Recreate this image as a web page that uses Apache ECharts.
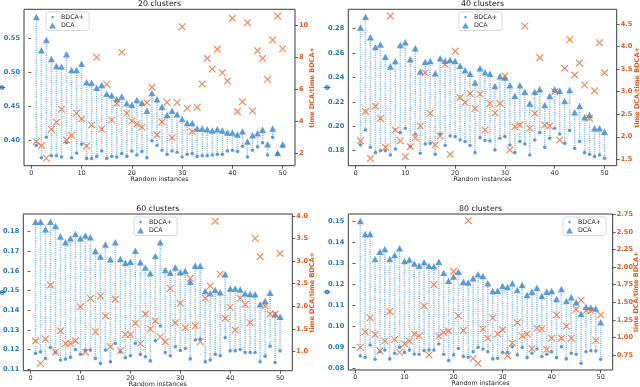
<!DOCTYPE html>
<html><head><meta charset="utf-8">
<script src="https://cdn.jsdelivr.net/npm/echarts@6/dist/echarts.min.js"></script>
<style>html,body{margin:0;padding:0;background:#fff}#c{width:640px;height:387px}</style>
</head><body><div id="c"></div>
<script>
const instances = [1,2,3,4,5,6,7,8,9,10,11,12,13,14,15,16,17,18,19,20,21,22,23,24,25,26,27,28,29,30,31,32,33,34,35,36,37,38,39,40,41,42,43,44,45,46,47,48,49,50];

const dca20 = [0.582,0.533,0.548,0.520,0.510,0.509,0.527,0.504,0.504,0.513,0.486,0.485,0.478,0.482,0.469,0.467,0.461,0.465,0.455,0.453,0.460,0.456,0.444,0.470,0.461,0.450,0.438,0.444,0.439,0.432,0.426,0.426,0.418,0.418,0.417,0.415,0.417,0.415,0.412,0.412,0.409,0.414,0.399,0.408,0.411,0.416,0.395,0.418,0.382,0.395];
const bdca20 = [0.393,0.375,0.405,0.378,0.378,0.376,0.397,0.375,0.382,0.395,0.374,0.374,0.377,0.385,0.374,0.377,0.376,0.381,0.377,0.385,0.379,0.384,0.375,0.400,0.393,0.386,0.380,0.385,0.383,0.376,0.380,0.381,0.377,0.378,0.378,0.379,0.380,0.380,0.385,0.386,0.384,0.392,0.376,0.386,0.391,0.397,0.379,0.405,0.381,0.392];
const ratio20 = [2.75,2.50,1.71,3.52,3.95,4.76,2.85,3.14,4.51,4.16,2.48,3.78,7.99,3.53,6.31,4.09,5.13,8.30,4.51,4.03,3.84,3.64,5.17,6.12,3.18,3.97,5.19,2.99,5.18,9.89,4.82,3.37,4.88,6.33,7.92,7.26,8.48,7.03,6.52,10.41,4.61,5.23,10.14,4.65,8.40,7.92,6.62,9.06,10.55,8.52];

const dca40 = [0.281,0.2898,0.273,0.265,0.267,0.257,0.249,0.2535,0.2666,0.2688,0.255,0.264,0.245,0.253,0.2535,0.2434,0.2557,0.2538,0.2543,0.2535,0.2497,0.246,0.243,0.2358,0.2475,0.2442,0.243,0.233,0.241,0.240,0.2336,0.225,0.2336,0.2284,0.2186,0.2284,0.2303,0.2175,0.2249,0.2303,0.2292,0.2208,0.2298,0.2115,0.2167,0.2074,0.2093,0.1984,0.1984,0.1956];
const bdca40 = [0.1847,0.197,0.1828,0.1784,0.180,0.180,0.1765,0.1814,0.1948,0.1984,0.1834,0.1937,0.1779,0.1855,0.186,0.177,0.1937,0.1842,0.1921,0.1915,0.1888,0.1875,0.1842,0.1784,0.1907,0.1883,0.188,0.1806,0.1902,0.1915,0.1847,0.1784,0.1875,0.1855,0.1765,0.1888,0.1948,0.1828,0.1902,0.1984,0.1937,0.186,0.1965,0.182,0.1875,0.1784,0.177,0.1751,0.1765,0.1738];
const ratio40 = [1.91,2.56,1.52,2.68,2.41,1.77,4.68,2.15,1.91,1.56,1.78,1.98,2.24,3.42,2.52,1.82,2.02,3.61,1.61,3.90,2.87,2.76,2.96,2.63,2.95,2.15,2.74,2.53,2.74,3.35,1.71,2.22,2.26,4.46,2.19,2.52,3.76,2.26,2.24,3.0,1.93,3.52,4.16,3.37,3.64,3.15,2.41,3.02,4.09,3.42];

const dca60 = [0.1851,0.1851,0.1812,0.1851,0.1829,0.1775,0.1746,0.1766,0.1788,0.1766,0.1781,0.1771,0.1701,0.1673,0.1735,0.1659,0.1746,0.1661,0.164,0.1647,0.1703,0.1644,0.1618,0.1588,0.1676,0.1746,0.1605,0.1591,0.1617,0.1593,0.160,0.1545,0.1627,0.1627,0.1498,0.1486,0.1503,0.1491,0.1583,0.1511,0.1511,0.1506,0.1486,0.1482,0.1481,0.143,0.1447,0.1489,0.138,0.1367];
const bdca60 = [0.118,0.1188,0.1154,0.121,0.1185,0.1146,0.1151,0.116,0.12,0.1176,0.1197,0.1197,0.1154,0.1129,0.1197,0.1137,0.1231,0.1188,0.1158,0.1168,0.1231,0.1175,0.1163,0.1142,0.1244,0.1319,0.1185,0.1168,0.1214,0.1195,0.1205,0.1152,0.1248,0.1253,0.1137,0.1146,0.1175,0.1168,0.126,0.1193,0.1193,0.12,0.1185,0.1185,0.1185,0.1137,0.1166,0.1217,0.1134,0.1193];
const ratio60 = [1.24,0.74,1.28,2.47,0.99,1.46,1.18,1.18,1.24,1.99,0.99,2.18,1.44,2.23,1.79,1.11,2.16,1.02,1.38,1.38,1.63,1.18,1.83,1.50,1.68,1.33,1.22,2.40,1.64,2.07,1.53,2.62,1.57,1.22,2.18,2.45,3.88,2.71,1.74,1.98,1.48,2.18,2.04,1.64,3.50,3.10,2.01,1.83,1.83,3.17];

const dca80 = [0.1503,0.1441,0.1441,0.1322,0.1357,0.137,0.1322,0.1341,0.1373,0.1312,0.132,0.1301,0.129,0.1306,0.129,0.1288,0.1309,0.1257,0.1218,0.1238,0.1261,0.1214,0.121,0.123,0.1249,0.1241,0.1206,0.1169,0.1171,0.1193,0.1188,0.1206,0.1174,0.1198,0.115,0.1166,0.1185,0.1145,0.1166,0.1169,0.1131,0.1179,0.1121,0.1139,0.1115,0.1059,0.1094,0.109,0.1086,0.102];
const bdca80 = [0.0859,0.0853,0.0911,0.0843,0.0879,0.0887,0.0845,0.0872,0.09,0.0876,0.0887,0.0868,0.0867,0.0884,0.0887,0.0887,0.0916,0.0867,0.0837,0.0864,0.0895,0.0856,0.0853,0.0879,0.09,0.0892,0.0879,0.0845,0.0848,0.0875,0.0876,0.0903,0.0864,0.0899,0.0851,0.0872,0.0892,0.0856,0.0867,0.0879,0.0851,0.0903,0.0845,0.0872,0.0867,0.0824,0.0879,0.0884,0.0883,0.0843];
const ratio80 = [0.86,1.08,1.28,1.04,0.81,0.95,1.37,0.97,0.79,0.91,0.95,1.05,1.02,1.45,0.75,1.75,1.02,1.07,1.09,1.94,1.31,1.10,2.66,0.70,0.63,1.12,0.99,1.28,1.05,1.11,0.74,0.92,1.21,1.02,1.05,0.84,1.13,1.12,0.83,0.99,1.32,0.99,1.16,0.99,1.40,1.53,1.38,1.38,0.96,1.32];

const xTicks = [0,10,20,30,40,50];
const leftTicks20 = [0.40,0.45,0.50,0.55];
const rightTicks20 = [2,4,6,8,10];
const leftTicks40 = [0.18,0.20,0.22,0.24,0.26,0.28];
const rightTicks40 = [1.5,2.0,2.5,3.0,3.5,4.0,4.5];
const leftTicks60 = [0.11,0.12,0.13,0.14,0.15,0.16,0.17,0.18];
const rightTicks60 = [1.0,1.5,2.0,2.5,3.0,3.5,4.0];
const leftTicks80 = [0.08,0.09,0.10,0.11,0.12,0.13,0.14,0.15];
const rightTicks80 = [0.75,1.00,1.25,1.50,1.75,2.00,2.25,2.50,2.75];
const titles = ['20 clusters','40 clusters','60 clusters','80 clusters'];

const BLUE = '#3a86c8', LINE = '#86b9e6', TBLUE = '#2277bd', ORANGE = '#ee6a2e', TORANGE = '#e0571d';
const FONT = 'DejaVu Sans';
const XPATH = 'path://M0,1.1L1.1,0L5,3.9L8.9,0L10,1.1L6.1,5L10,8.9L8.9,10L5,6.1L1.1,10L0,8.9L3.9,5Z';
const DOTICON = 'path://M0,0M10,10M3,5a2,2 0 1,0 4,0a2,2 0 1,0 -4,0Z';

const panels = [
  {title: titles[0], bdca: bdca20, dca: dca20, ratio: ratio20, lt: leftTicks20, rt: rightTicks20, ld: 2, rd: 0,
   box: [24, 9.3, 271, 156.4], ly: [0.3633, 0.5932], ry: [1.25, 10.97], lg: [46, 12], rg: 14},
  {title: titles[1], bdca: bdca40, dca: dca40, ratio: ratio40, lt: leftTicks40, rt: rightTicks40, ld: 2, rd: 1,
   box: [348.3, 9.3, 268.4, 156.4], ly: [0.1677, 0.2959], ry: [1.358, 4.83], lg: [459, 12], rg: 17.3},
  {title: titles[2], bdca: bdca60, dca: dca60, ratio: ratio60, lt: leftTicks60, rt: rightTicks60, ld: 2, rd: 1,
   box: [23.3, 214, 269, 156.7], ly: [0.1092, 0.189], ry: [0.58, 4.04], lg: [134, 217], rg: 17},
  {title: titles[3], bdca: bdca80, dca: dca80, ratio: ratio80, lt: leftTicks80, rt: rightTicks80, ld: 2, rd: 2,
   box: [348.3, 214, 264.4, 156], ly: [0.0792, 0.1537], ry: [0.537, 2.755], lg: [563, 217], rg: 20.5}
];

const option = {animation: false, backgroundColor: '#fff', title: [], grid: [], xAxis: [], yAxis: [], legend: [], series: []};

panels.forEach((p, k) => {
  const [l, t, w, h] = p.box;
  option.grid.push({left: l, top: t, width: w, height: h, show: true, borderColor: '#3a3a3a', borderWidth: 1, backgroundColor: 'transparent', containLabel: false, outerBoundsMode: 'none'});
  option.title.push({text: p.title, left: l + w / 2, top: t - 9.3, padding: 0, textAlign: 'center',
    textStyle: {fontFamily: FONT, fontSize: 7.8, fontWeight: 'normal', color: '#111'}});
  option.xAxis.push({type: 'value', gridIndex: k, min: -1.45, max: 52.45, name: 'Random instances', nameLocation: 'middle', nameGap: 10.5, nameMoveOverlap: false,
    nameTextStyle: {fontFamily: FONT, fontSize: 6.3, color: '#222'},
    axisLine: {show: false}, splitLine: {show: false},
    axisTick: {show: true, length: 3, customValues: xTicks, lineStyle: {color: '#333', width: 0.8}},
    axisLabel: {customValues: xTicks, margin: 4, fontFamily: FONT, fontSize: 6.5, color: '#333'}});
  option.yAxis.push({type: 'value', gridIndex: k, position: 'left', min: p.ly[0], max: p.ly[1], name: 'ϕ', nameLocation: 'middle', nameRotate: 90, nameGap: 18, nameMoveOverlap: false,
    nameTextStyle: {fontFamily: FONT, fontSize: 7, fontWeight: 'bold', color: TBLUE},
    axisLine: {show: false}, splitLine: {show: false},
    axisTick: {show: true, length: 3, customValues: p.lt, lineStyle: {color: '#333', width: 0.8}},
    axisLabel: {customValues: p.lt, margin: 4, fontFamily: FONT, fontSize: 6.6, fontWeight: 'bold', color: TBLUE,
      formatter: v => v.toFixed(p.ld)}});
  option.yAxis.push({type: 'value', gridIndex: k, position: 'right', min: p.ry[0], max: p.ry[1], name: 'time DCA/time BDCA+', nameLocation: 'middle', nameRotate: 90, nameGap: p.rg, nameMoveOverlap: false,
    nameTextStyle: {fontFamily: FONT, fontSize: 6.5, fontWeight: 'bold', color: TORANGE},
    axisLine: {show: false}, splitLine: {show: false},
    axisTick: {show: true, length: 3, customValues: p.rt, lineStyle: {color: '#333', width: 0.8}},
    axisLabel: {customValues: p.rt, margin: 4, fontFamily: FONT, fontSize: 6.6, fontWeight: 'bold', color: TORANGE,
      formatter: v => v.toFixed(p.rd)}});
  option.legend.push({left: p.lg[0], top: p.lg[1], orient: 'vertical', itemGap: 2.5, itemWidth: 7, itemHeight: 6,
    padding: [2, 5, 2, 3], borderColor: '#cfcfcf', borderWidth: 0.8, borderRadius: 2, backgroundColor: 'rgba(255,255,255,0.8)',
    textStyle: {fontFamily: FONT, fontSize: 6.3, color: '#222'},
    data: [{name: 'BDCA+', icon: DOTICON}, {name: 'DCA', icon: 'triangle'}]});
  const yl = 2 * k, yr = 2 * k + 1;
  option.series.push({type: 'custom', name: 'link' + k, xAxisIndex: k, yAxisIndex: yl, silent: true, z: 1,
    data: instances.map((x, i) => [x, p.bdca[i], p.dca[i]]),
    encode: {x: 0, y: [1, 2]},
    renderItem: (params, api) => {
      const a = api.coord([api.value(0), api.value(1)]);
      const b = api.coord([api.value(0), api.value(2)]);
      return {type: 'line', shape: {x1: a[0], y1: a[1], x2: b[0], y2: b[1]},
        style: {stroke: LINE, lineWidth: 1.6, lineDash: [1.1, 1.1]}};
    }});
  option.series.push({type: 'scatter', name: 'BDCA+', xAxisIndex: k, yAxisIndex: yl, z: 2,
    symbol: 'circle', symbolSize: 3.6, itemStyle: {color: BLUE},
    data: instances.map((x, i) => [x, p.bdca[i]])});
  option.series.push({type: 'scatter', name: 'DCA', xAxisIndex: k, yAxisIndex: yl, z: 3,
    symbol: 'triangle', symbolSize: [7, 6.5], itemStyle: {color: BLUE},
    data: instances.map((x, i) => [x, p.dca[i]])});
  option.series.push({type: 'scatter', name: 'ratio' + k, xAxisIndex: k, yAxisIndex: yr, z: 4,
    symbol: XPATH, symbolSize: 7.5, itemStyle: {color: ORANGE},
    data: instances.map((x, i) => [x, p.ratio[i]])});
});

const chart = echarts.init(document.getElementById('c'), null, {renderer: 'canvas', width: 640, height: 387});
chart.setOption(option);
</script>
</body></html>
